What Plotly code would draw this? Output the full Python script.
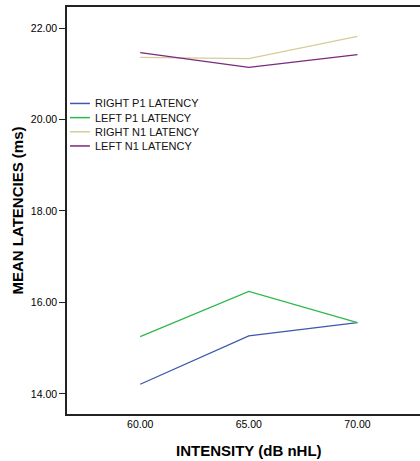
import plotly.graph_objects as go

# Stimulus intensities (dB nHL)
intensity = [60.0, 65.0, 70.0]

# Mean latencies (ms) per wave / ear
right_p1 = [14.21, 15.27, 15.56]
left_p1 = [15.25, 16.24, 15.56]
right_n1 = [21.36, 21.33, 21.82]
left_n1 = [21.46, 21.14, 21.42]

series_names = ["RIGHT P1 LATENCY", "LEFT P1 LATENCY", "RIGHT N1 LATENCY", "LEFT N1 LATENCY"]
series_values = [right_p1, left_p1, right_n1, left_n1]
series_colors = ["#3E58AC", "#2EB848", "#D3CE97", "#7C287D"]

y_ticks = [14.0, 16.0, 18.0, 20.0, 22.0]
x_ticks = [60.0, 65.0, 70.0]

font_family = "Liberation Sans, Arial, sans-serif"

fig = go.Figure()
for name, vals, col in zip(series_names, series_values, series_colors):
    fig.add_trace(go.Scatter(
        x=intensity, y=vals, mode="lines", name=name,
        line=dict(color=col, width=1.3), showlegend=False,
    ))

# Compact legend drawn in paper space: short line sample + label per series
legend_x0, legend_x1, legend_text_x = 0.0085, 0.065, 0.073
legend_top, legend_step = 0.763, 0.0348
for i, (name, col) in enumerate(zip(series_names, series_colors)):
    yy = legend_top - i * legend_step
    fig.add_shape(type="line", xref="paper", yref="paper",
                  x0=legend_x0, x1=legend_x1, y0=yy, y1=yy,
                  line=dict(color=col, width=1.5))
    fig.add_annotation(x=legend_text_x, y=yy, xref="paper", yref="paper",
                       xanchor="left", yanchor="middle", showarrow=False,
                       text=name, font=dict(size=11, family=font_family, color="#111111"))

fig.update_layout(
    width=420, height=461,
    margin=dict(l=67, r=0, t=7, b=47),
    paper_bgcolor="white", plot_bgcolor="white",
    font=dict(family=font_family, size=11, color="#000000"),
    showlegend=False,
    xaxis=dict(
        range=[56.63, 72.88],
        tickvals=x_ticks,
        ticktext=[f"{v:.2f}" for v in x_ticks],
        ticks="", showgrid=False, zeroline=False,
        showline=True, linecolor="#222222", linewidth=1.5, mirror=True,
        tickfont=dict(size=10.5, family=font_family),
    ),
    yaxis=dict(
        range=[13.56, 22.46],
        tickvals=y_ticks,
        ticktext=[f"{v:.2f}" for v in y_ticks],
        ticks="outside", ticklen=6, tickcolor="#222222", tickwidth=1,
        showgrid=False, zeroline=False,
        showline=True, linecolor="#222222", linewidth=1.5, mirror=False,
        tickfont=dict(size=10.5, family=font_family),
        title=dict(text="<b>MEAN LATENCIES (ms)</b>", standoff=4,
                   font=dict(size=15, family=font_family)),
    ),
)

# X axis title, centred under the middle intensity
fig.add_annotation(
    x=65.0, xref="x", y=0, yref="paper", yshift=-36, yanchor="middle",
    text="<b>INTENSITY (dB nHL)</b>", showarrow=False,
    font=dict(size=15, family=font_family, color="#000000"),
)

fig.write_html("out.html")
